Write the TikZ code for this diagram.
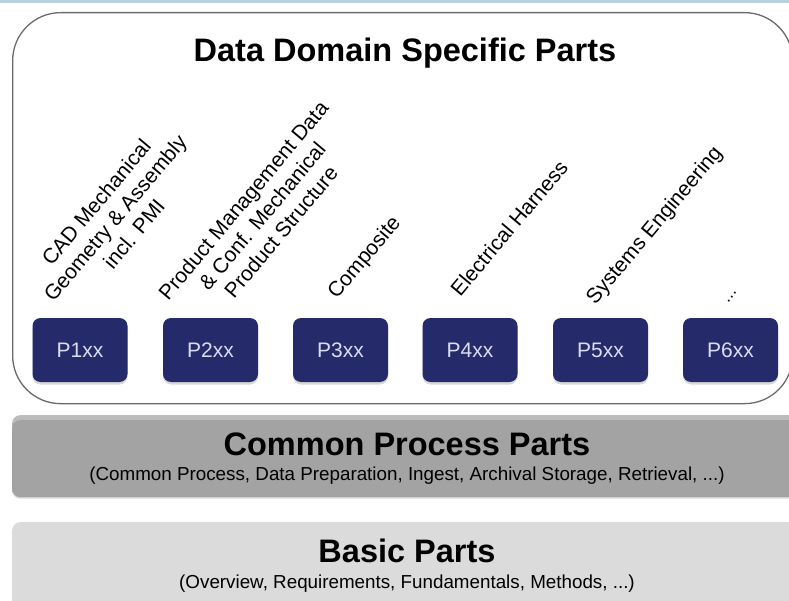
\documentclass[tikz,border=0pt]{standalone}
\usepackage{fontspec}
\setmainfont{Liberation Sans}
\usetikzlibrary{shadows}
\definecolor{framegray}{HTML}{6A6A6A}
\definecolor{navy}{HTML}{252A6B}
\definecolor{partlabel}{HTML}{DADDF0}
\definecolor{processgray}{HTML}{A3A3A3}
\definecolor{processtop}{HTML}{BDBDBD}
\definecolor{basicgray}{HTML}{DBDBDB}
\definecolor{topline}{HTML}{B9D2DE}
\begin{document}
\begin{tikzpicture}[x=1pt,y=-1pt,
  domainframe/.style={draw=framegray, line width=1.3pt, fill=white,
    rounded corners=48pt, inner sep=0pt, anchor=north west},
  partbox/.style={fill=navy, rounded corners=8pt, minimum width=95pt,
    minimum height=64pt, inner sep=0pt, text=partlabel,
    font=\fontsize{21}{25}\selectfont,
    drop shadow={shadow xshift=0pt, shadow yshift=-2.5pt, opacity=0.3}},
  domainlabel/.style={rotate=50, align=center, inner sep=0pt,
    font=\fontsize{21}{24.5}\selectfont},
  band/.style={rounded corners=8pt, inner sep=0pt, anchor=north west,
    minimum width=800pt},
  bigtitle/.style={font=\bfseries\fontsize{32.5}{38}\selectfont, anchor=base},
  subtitle/.style={font=\fontsize{18.8}{22}\selectfont, anchor=base}
]
\useasboundingbox (0,0) rectangle (789,601);
\clip (0,0) rectangle (789,601);

% thin rule along the top edge
\fill[topline] (0,0) rectangle (789,3);

% frame of the data domain specific parts
\node[domainframe, minimum width=780pt, minimum height=391pt] (domain) at (12,12) {};
\node[bigtitle] (domaintitle) at (405,62) {Data Domain Specific Parts};

% rotated domain labels
\node[domainlabel] (lcad) at (115,218) {CAD Mechanical\\Geometry \& Assembly\\incl. PMI};
\node[domainlabel] (lpdm) at (262,216) {Product Management Data\\\& Conf. Mechanical\\Product Structure};
\node[domainlabel] (lcomp) at (365,258) {Composite};
\node[domainlabel] (lelec) at (509,228) {Electrical Harness};
\node[domainlabel] (lsys) at (655,226) {Systems Engineering};
\node[domainlabel, font=\fontsize{17}{20}\selectfont] (lmore) at (732,297) {...};

% part series boxes
\node[partbox] (p1) at (80,350) {P1xx};
\node[partbox] (p2) at (210.5,350) {P2xx};
\node[partbox] (p3) at (340.5,350) {P3xx};
\node[partbox] (p4) at (470,350) {P4xx};
\node[partbox] (p5) at (600.5,350) {P5xx};
\node[partbox] (p6) at (730.5,350) {P6xx};

% common process parts band, lighter along its top edge
\node[band, top color=processtop, bottom color=processgray, middle color=processgray,
  shading angle=0, minimum height=82pt,
  drop shadow={shadow xshift=0pt, shadow yshift=-1.5pt, opacity=0.3}] (common) at (12,415) {};
\node[band, fill=processgray, minimum height=76pt] (commonbody) at (12,420) {};
\node[bigtitle] (commontitle) at (407,455) {Common Process Parts};
\node[subtitle] (commonsub) at (407,480) {(Common Process, Data Preparation, Ingest, Archival Storage, Retrieval, ...)};

% basic parts band
\node[band, fill=basicgray, minimum height=95pt] (basic) at (12,522) {};
\node[bigtitle] (basictitle) at (407,562) {Basic Parts};
\node[subtitle] (basicsub) at (407,588) {(Overview, Requirements, Fundamentals, Methods, ...)};
\end{tikzpicture}
\end{document}
